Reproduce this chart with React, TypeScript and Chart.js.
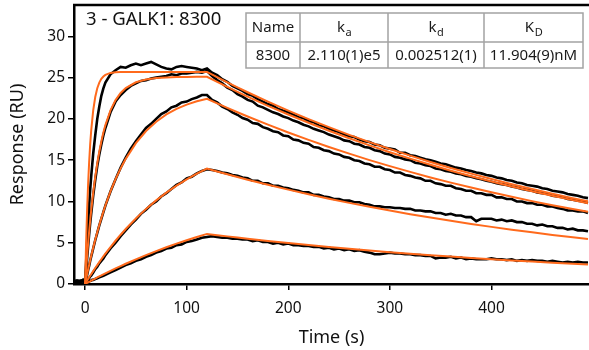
import React, { useEffect, useRef } from "react";
import { Chart, registerables } from "chart.js";

Chart.register(...registerables);

// ---------- data ----------
const chartTitle = "3 - GALK1: 8300";
const xTitle = "Time (s)";
const yTitle = "Response (RU)";
const xTickValues = [0, 100, 200, 300, 400];
const yTickValues = [0, 5, 10, 15, 20, 25, 30];

const tableHeadMain = ["Name", "k", "k", "K"];
const tableHeadSub = ["", "a", "d", "D"];
const tableRow = ["8300", "2.110(1)e5", "0.002512(1)", "11.904(9)nM"];

// measured sensorgram time base (s)
const dataTime = [
  -12, -8, -4, -2, 0,
  1, 2, 3, 4, 5, 6, 7, 8, 10, 12, 14, 16, 18, 20,
  25, 30, 35, 40, 45, 50, 55, 60, 65, 70, 75, 80, 85, 90, 95, 100, 105, 110, 115, 120,
  125, 130, 135, 140, 145, 150, 155, 160, 165, 170,
  175, 180, 185, 190, 195, 200, 205, 210, 215, 220,
  225, 230, 235, 240, 245, 250, 255, 260, 265, 270,
  275, 280, 285, 290, 295, 300, 305, 310, 315, 320,
  325, 330, 335, 340, 345, 350, 355, 360, 365, 370,
  375, 380, 385, 390, 395, 400, 405, 410, 415, 420,
  425, 430, 435, 440, 445, 450, 455, 460, 465, 470,
  475, 480, 485, 490, 495,
];

const measured1 = [
  0.3, 0.4, 0.3, 0.5, 0.4,
  2.5, 5.0, 7.4, 9.5, 11.4, 13.0, 14.4, 15.8, 18.0, 20.0, 21.5, 22.8, 23.7, 24.4,
  25.4, 25.9, 26.3, 26.2, 26.5, 26.7, 26.5, 26.7, 26.9, 26.6, 26.3, 26.1, 26.0, 26.3, 26.4, 26.3, 26.2, 26.1, 25.9, 26.1,
  25.6, 25.3, 24.8, 24.5, 24.0, 23.7, 23.4, 23.0, 22.8, 22.4,
  22.1, 21.8, 21.6, 21.2, 21.0, 20.8, 20.5, 20.2, 20.1, 19.7,
  19.6, 19.2, 19.1, 18.8, 18.6, 18.4, 18.1, 17.9, 17.8, 17.5,
  17.3, 17.2, 16.9, 16.8, 16.5, 16.4, 16.3, 15.9, 15.9, 15.6,
  15.5, 15.3, 15.1, 15.0, 14.8, 14.6, 14.5, 14.3, 14.1, 14.0,
  13.8, 13.7, 13.5, 13.4, 13.2, 13.1, 12.9, 12.8, 12.6, 12.5,
  12.3, 12.2, 12.0, 11.9, 11.8, 11.6, 11.5, 11.3, 11.2, 11.1,
  10.9, 10.8, 10.7, 10.5, 10.4,
];

const measured2 = [
  0.3, 0.2, 0.4, 0.3, 0.3,
  1.5, 3.1, 4.6, 6.0, 7.3, 8.5, 9.6, 10.7, 12.6, 14.3, 15.7, 16.9, 18.0, 18.9,
  20.8, 22.1, 22.9, 23.5, 24.0, 24.3, 24.6, 24.7, 24.9, 25.0, 25.1, 25.2, 25.4, 25.3, 25.5, 25.5, 25.6, 25.7, 25.6, 25.8,
  25.2, 24.7, 24.3, 23.8, 23.5, 23.0, 22.7, 22.3, 22.1, 21.6,
  21.4, 21.1, 20.8, 20.6, 20.3, 20.1, 19.8, 19.6, 19.3, 19.1,
  18.8, 18.6, 18.4, 18.1, 17.9, 17.7, 17.4, 17.3, 17.0, 16.9,
  16.6, 16.5, 16.2, 16.1, 15.8, 15.7, 15.4, 15.3, 15.1, 15.0,
  14.7, 14.6, 14.4, 14.3, 14.0, 13.9, 13.7, 13.6, 13.4, 13.3,
  13.1, 13.0, 12.8, 12.7, 12.5, 12.4, 12.2, 12.1, 12.0, 11.8,
  11.7, 11.5, 11.4, 11.3, 11.1, 11.0, 10.9, 10.7, 10.6, 10.5,
  10.3, 10.2, 10.1, 10.0, 9.8,
];

const measured3 = [
  0.3, 0.3, 0.4, 0.3, 0.2,
  0.6, 1.1, 1.7, 2.2, 2.8, 3.3, 3.8, 4.3, 5.3, 6.2, 7.1, 7.9, 8.7, 9.5,
  11.2, 12.7, 14.1, 15.3, 16.4, 17.3, 18.1, 18.9, 19.4, 20.0, 20.6, 20.9, 21.4, 21.6, 22.0, 22.1, 22.4, 22.6, 22.9, 22.9,
  22.3, 22.0, 21.5, 21.2, 20.8, 20.5, 20.1, 19.9, 19.5, 19.4,
  19.0, 18.8, 18.5, 18.4, 18.0, 17.9, 17.5, 17.4, 17.1, 17.0,
  16.6, 16.5, 16.2, 16.1, 15.8, 15.7, 15.4, 15.3, 15.0, 14.9,
  14.6, 14.5, 14.2, 14.2, 13.9, 13.8, 13.5, 13.5, 13.2, 13.1,
  12.9, 12.8, 12.5, 12.5, 12.2, 12.1, 11.9, 11.9, 11.6, 11.5,
  11.3, 11.3, 11.0, 11.0, 10.8, 10.8, 10.5, 10.5, 10.3, 10.3,
  10.0, 10.0, 9.8, 9.8, 9.6, 9.6, 9.4, 9.4, 9.2, 9.1,
  8.9, 8.9, 8.8, 8.8, 8.6,
];

const measured4 = [
  0.3, 0.2, 0.3, 0.4, 0.2,
  0.3, 0.4, 0.5, 0.7, 0.9, 1.0, 1.2, 1.4, 1.8, 2.1, 2.5, 2.8, 3.1, 3.5,
  4.3, 5.0, 5.8, 6.5, 7.2, 7.8, 8.5, 9.0, 9.6, 10.0, 10.6, 11.0, 11.5, 12.0, 12.3, 12.8, 13.0, 13.4, 13.7, 13.9,
  13.8, 13.7, 13.5, 13.4, 13.2, 13.1, 12.9, 12.8, 12.5, 12.5,
  12.2, 12.2, 11.9, 11.9, 11.7, 11.6, 11.4, 11.3, 11.1, 11.1,
  10.8, 10.8, 10.6, 10.5, 10.3, 10.3, 10.1, 10.1, 9.9, 9.9,
  9.7, 9.6, 9.4, 9.4, 9.3, 9.3, 9.2, 9.2, 9.1, 9.1,
  8.9, 8.9, 8.8, 8.8, 8.6, 8.6, 8.4, 8.5, 8.3, 8.3,
  8.1, 8.1, 7.6, 7.9, 7.9, 7.9, 7.7, 7.8, 7.6, 7.7,
  7.5, 7.5, 7.3, 7.3, 7.1, 7.2, 7.0, 7.0, 6.8, 6.8,
  6.6, 6.7, 6.5, 6.5, 6.4,
];

const measured5 = [
  0.3, 0.4, 0.3, 0.5, 0.2,
  0.2, 0.2, 0.3, 0.3, 0.4, 0.4, 0.5, 0.5, 0.6, 0.7, 0.8, 0.9, 1.0, 1.1,
  1.4, 1.7, 2.0, 2.3, 2.5, 2.8, 3.0, 3.3, 3.5, 3.8, 4.0, 4.3, 4.4, 4.7, 4.8, 5.1, 5.2, 5.4, 5.6, 5.7,
  5.8, 5.7, 5.6, 5.6, 5.5, 5.5, 5.4, 5.4, 5.2, 5.3,
  5.1, 5.1, 4.9, 5.0, 4.8, 4.9, 4.7, 4.7, 4.6, 4.6,
  4.5, 4.5, 4.3, 4.4, 4.2, 4.3, 4.1, 4.2, 4.0, 4.1,
  3.9, 3.8, 3.6, 3.6, 3.7, 3.8, 3.7, 3.7, 3.6, 3.6,
  3.5, 3.5, 3.4, 3.4, 3.1, 3.2, 3.2, 3.3, 3.1, 3.2,
  3.0, 3.1, 3.0, 3.0, 3.0, 3.1, 3.0, 3.0, 2.9, 3.0,
  2.8, 2.9, 2.8, 2.9, 2.8, 2.8, 2.7, 2.8, 2.7, 2.6,
  2.7, 2.6, 2.7, 2.6, 2.6,
];

// fitted curves time base (s)
const fitTime = [
  0, 1, 2, 3, 4, 5, 6,
  8, 10, 12, 14, 16, 18, 20,
  25, 30, 35, 40,
  50, 60, 70, 80, 90, 100, 110, 120,
  130, 140, 150, 160,
  180, 200, 220, 240, 260, 280, 300, 320, 340, 360, 380, 400, 420, 440, 460, 480,
  495,
];

const fit1 = [
  0, 4.94, 8.93, 12.15, 14.75, 16.86, 18.55,
  21.03, 22.65, 23.71, 24.40, 24.85, 25.14, 25.33,
  25.57, 25.65, 25.68, 25.69,
  25.69, 25.69, 25.69, 25.69, 25.69, 25.69, 25.69, 25.69,
  25.05, 24.43, 23.82, 23.23,
  22.10, 21.01, 19.98, 19.01, 18.07, 17.19, 16.35, 15.55, 14.78, 14.06, 13.37, 12.71, 12.09, 11.50, 10.94, 10.40,
  10.02,
];
const fit2 = [
  0, 1.76, 3.40, 4.93, 6.35, 7.66, 8.89,
  11.08, 12.98, 14.63, 16.05, 17.27, 18.34, 19.25,
  21.04, 22.28, 23.14, 23.74,
  24.44, 24.78, 24.95, 25.03, 25.07, 25.09, 25.10, 25.10,
  24.48, 23.87, 23.28, 22.70,
  21.59, 20.53, 19.53, 18.57, 17.66, 16.79, 15.97, 15.19, 14.45, 13.73, 13.06, 12.42, 11.81, 11.23, 10.69, 10.16,
  9.79,
];
const fit3 = [
  0, 0.60, 1.19, 1.76, 2.31, 2.86, 3.39,
  4.40, 5.37, 6.28, 7.15, 7.98, 8.76, 9.51,
  11.21, 12.70, 14.01, 15.16,
  17.07, 18.53, 19.66, 20.54, 21.21, 21.73, 22.13, 22.44,
  21.88, 21.34, 20.81, 20.29,
  19.30, 18.35, 17.46, 16.60, 15.79, 15.01, 14.28, 13.58, 12.91, 12.28, 11.68, 11.11, 10.56, 10.04, 9.55, 9.08,
  8.75,
];
const fit4 = [
  0, 0.20, 0.40, 0.60, 0.80, 0.99, 1.18,
  1.56, 1.93, 2.29, 2.65, 3.00, 3.34, 3.67,
  4.48, 5.24, 5.97, 6.66,
  7.94, 9.10, 10.13, 11.07, 11.91, 12.67, 13.36, 13.98,
  13.63, 13.29, 12.97, 12.64,
  12.02, 11.43, 10.88, 10.34, 9.83, 9.35, 8.90, 8.46, 8.05, 7.65, 7.28, 6.92, 6.58, 6.26, 5.95, 5.66,
  5.45,
];
const fit5 = [
  0, 0.07, 0.14, 0.20, 0.27, 0.33, 0.40,
  0.53, 0.66, 0.79, 0.92, 1.04, 1.17, 1.29,
  1.59, 1.89, 2.17, 2.45,
  2.99, 3.50, 3.99, 4.45, 4.89, 5.30, 5.70, 6.07,
  5.92, 5.77, 5.63, 5.49,
  5.22, 4.96, 4.72, 4.49, 4.27, 4.06, 3.86, 3.67, 3.49, 3.32, 3.16, 3.00, 2.86, 2.72, 2.58, 2.46,
  2.37,
];

const measuredSeries = [measured1, measured2, measured3, measured4, measured5];
const fitSeries = [fit1, fit2, fit3, fit4, fit5];

// ---------- style ----------
const FONT = '"Noto Sans", "DejaVu Sans", sans-serif';
const BLACK = "#000000";
const ORANGE = "#ff6a1c";

const overlayPlugin = {
  id: "overlay",
  afterDraw(chart: any) {
    const { ctx, chartArea } = chart;
    const { left, right, top } = chartArea;
    ctx.save();
    // top frame line
    ctx.strokeStyle = "#000";
    ctx.lineWidth = 2.5;
    ctx.beginPath();
    ctx.moveTo(left - 1, top);
    ctx.lineTo(right + 2, top);
    ctx.stroke();

    // title inside plot
    ctx.fillStyle = "#111";
    ctx.font = `18.5px ${FONT}`;
    ctx.textAlign = "left";
    ctx.textBaseline = "alphabetic";
    ctx.fillText(chartTitle, left + 12, top + 20);

    // table
    const colW = [54, 88, 96, 99];
    const rowH = [29, 26];
    const tw = colW.reduce((a, b) => a + b, 0);
    const tx = right - 6 - tw;
    const ty = top + 8;
    const th = rowH[0] + rowH[1];
    ctx.fillStyle = "#fff";
    ctx.fillRect(tx, ty, tw, th);
    ctx.strokeStyle = "#a3a3a3";
    ctx.lineWidth = 1.5;
    ctx.strokeRect(tx, ty, tw, th);
    ctx.beginPath();
    ctx.moveTo(tx, ty + rowH[0]);
    ctx.lineTo(tx + tw, ty + rowH[0]);
    let cx = tx;
    for (let i = 0; i < colW.length - 1; i++) {
      cx += colW[i];
      ctx.moveTo(cx, ty);
      ctx.lineTo(cx, ty + th);
    }
    ctx.stroke();

    ctx.fillStyle = "#1a1a1a";
    ctx.textBaseline = "middle";
    cx = tx;
    for (let i = 0; i < colW.length; i++) {
      const mid = cx + colW[i] / 2;
      const main = tableHeadMain[i];
      const sub = tableHeadSub[i];
      ctx.font = `15px ${FONT}`;
      const mw = ctx.measureText(main).width;
      ctx.font = `11px ${FONT}`;
      const sw = sub ? ctx.measureText(sub).width : 0;
      const start = mid - (mw + sw) / 2;
      ctx.textAlign = "left";
      ctx.font = `15px ${FONT}`;
      ctx.fillText(main, start, ty + rowH[0] / 2);
      if (sub) {
        ctx.font = `11px ${FONT}`;
        ctx.fillText(sub, start + mw + 0.5, ty + rowH[0] / 2 + 5);
      }
      ctx.font = `15px ${FONT}`;
      ctx.textAlign = "center";
      ctx.fillText(tableRow[i], mid, ty + rowH[0] + rowH[1] / 2 + 0.5);
      cx += colW[i];
    }
    ctx.restore();
  },
};

export default function App() {
  const ref = useRef<HTMLCanvasElement>(null);

  useEffect(() => {
    const canvas = ref.current;
    if (!canvas) return;

    const blackSets = measuredSeries.map((ys, k) => ({
      label: `measured ${k + 1}`,
      data: dataTime.map((t, i) => ({ x: t, y: ys[i] })),
      borderColor: BLACK,
      borderWidth: 2.6,
      pointRadius: 0,
      tension: 0,
      order: 2,
    }));
    const fitSets = fitSeries.map((ys, k) => ({
      label: `fit ${k + 1}`,
      data: fitTime.map((t, i) => ({ x: t, y: ys[i] })),
      borderColor: ORANGE,
      borderWidth: 2,
      pointRadius: 0,
      tension: 0,
      order: 1,
    }));

    const tickFont = { family: FONT, size: 15.5 };
    const titleFont = { family: FONT, size: 18 };

    const chart = new Chart(canvas, {
      type: "line",
      data: { datasets: [...blackSets, ...fitSets] as any },
      options: {
        animation: false,
        responsive: false,
        devicePixelRatio: 1,
        layout: { padding: { top: 5, right: 0, left: 0, bottom: 0 } },
        plugins: { legend: { display: false }, tooltip: { enabled: false } },
        scales: {
          x: {
            type: "linear",
            min: -10.9,
            max: 496,
            afterBuildTicks: (s: any) => {
              s.ticks = xTickValues.map((v) => ({ value: v }));
            },
            afterFit: (s: any) => {
              s.height = 66;
              s.paddingLeft = 0;
              s.paddingRight = 0;
            },
            ticks: { font: tickFont, color: "#111", padding: 9, maxRotation: 0 },
            grid: { drawOnChartArea: false, tickLength: 6, color: "#000", lineWidth: 1.5 },
            border: { display: true, color: "#000", width: 2.5 },
            title: { display: true, text: xTitle, font: titleFont, color: "#111", padding: { top: 0, bottom: 1 } },
          },
          y: {
            type: "linear",
            min: 0,
            max: 33.8,
            afterBuildTicks: (s: any) => {
              s.ticks = yTickValues.map((v) => ({ value: v }));
            },
            afterFit: (s: any) => {
              s.width = 74;
              s.paddingTop = 0;
              s.paddingBottom = 0;
            },
            ticks: { font: tickFont, color: "#111", padding: 3 },
            grid: { drawOnChartArea: false, tickLength: 6, color: "#000", lineWidth: 1.5 },
            border: { display: true, color: "#000", width: 2.5 },
            title: { display: true, text: yTitle, font: titleFont, color: "#111", padding: { top: 7, bottom: 0 } },
          },
        },
      },
      plugins: [overlayPlugin],
    });

    return () => chart.destroy();
  }, []);

  return (
    <div style={{ position: "fixed", left: 0, top: 0, width: 589, height: 350, background: "#fff" }}>
      <canvas ref={ref} width={589} height={350} style={{ display: "block", width: 589, height: 350 }} />
    </div>
  );
}
